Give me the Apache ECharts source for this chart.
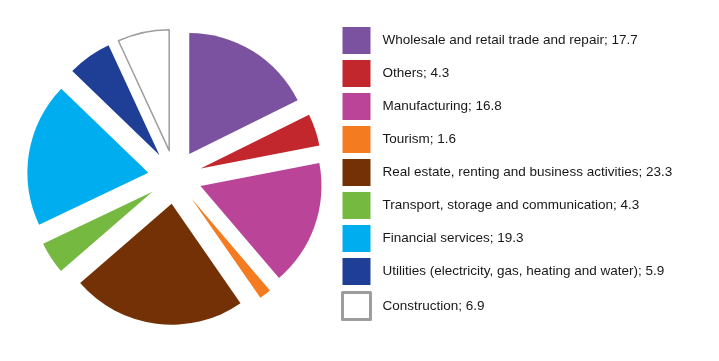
<!DOCTYPE html>
<html><head><meta charset="utf-8">
<script src="https://cdn.jsdelivr.net/npm/echarts@6/dist/echarts.min.js"></script>
<style>html,body{margin:0;padding:0;background:#fff}#c{width:719px;height:361px}</style>
</head><body><div id="c"></div>
<script>
const categories = ["Wholesale and retail trade and repair","Others","Manufacturing","Tourism","Real estate, renting and business activities","Transport, storage and communication","Financial services","Utilities (electricity, gas, heating and water)","Construction"];
const values = [17.7, 4.3, 16.8, 1.6, 23.3, 4.3, 19.3, 5.9, 6.9];
const colors = ["#7B52A0","#C1272D","#B94498","#F47B20","#733105","#76B941","#00AEEF","#1F3F96","#ffffff"];

const chart = echarts.init(document.getElementById('c'), null, {renderer:'canvas'});
const data = categories.map((c,i)=>({
  name: c, value: values[i], selected: true,
  itemStyle: i===8 ? {color:'#ffffff', borderColor:'#9d9d9d', borderWidth:1.5} : {color: colors[i]}
}));
chart.setOption({
  animation:false,
  legend:{
    orient:'vertical', left:336, top:22, itemWidth:28, itemHeight:27, itemGap:6,
    icon:'rect', selectedMode:false,
    data: categories.map((c,i)=> i===8 ? {name:c, itemStyle:{color:'#fff',borderColor:'#9d9d9d',borderWidth:3}} : {name:c}),
    formatter: name => name + '; ' + values[categories.indexOf(name)],
    textStyle:{fontFamily:'Liberation Sans Narrow, Arial Narrow, sans-serif', fontSize:13.5, color:'#1a1718', padding:[0,0,0,7]}
  },
  series:[{
    type:'pie', center:[175,177], radius:[0,121], startAngle:90, clockwise:true,
    selectedMode:'multiple', selectedOffset:27, label:{show:false}, labelLine:{show:false},
    emphasis:{disabled:true}, avoidLabelOverlap:false,
    data
  }]
});
</script></body></html>
